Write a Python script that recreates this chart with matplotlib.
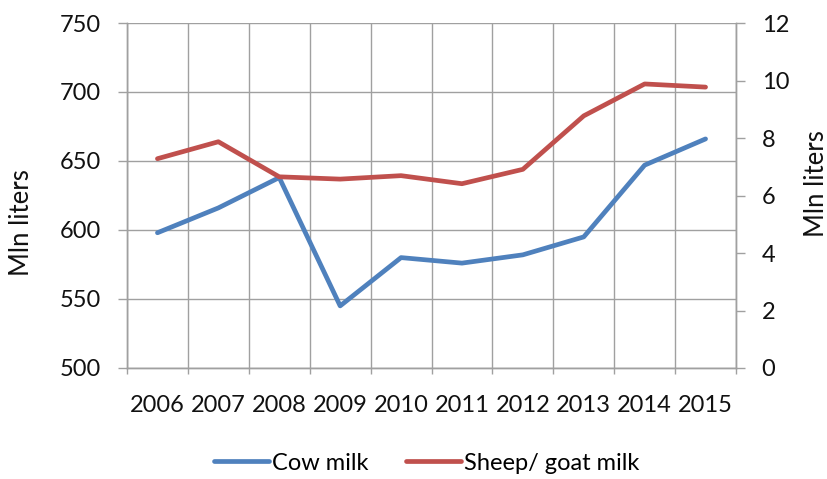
import matplotlib
matplotlib.use("Agg")
import matplotlib.pyplot as plt
import numpy as np

plt.rcParams['font.family'] = ['Lato', 'DejaVu Sans']

years = ["2006", "2007", "2008", "2009", "2010", "2011", "2012", "2013", "2014", "2015"]
cow_milk = [598, 616, 638, 545, 580, 576, 582, 595, 647, 666]
sheep_goat_milk = [7.28, 7.87, 6.65, 6.57, 6.69, 6.41, 6.91, 8.77, 9.88, 9.77]

blue = "#4F81BD"
red = "#C0504D"
grid_c = "#A0A0A0"
text_c = "#111111"
fs = 17
W, H = 827, 479

fig = plt.figure(figsize=(W / 100, H / 100), dpi=100)
ax = fig.add_axes([127 / W, 1 - 368 / H, (736 - 127) / W, (368 - 23) / H])
ax2 = ax.twinx()

x = np.arange(len(years))
ax.plot(x, cow_milk, color=blue, lw=3.4, solid_capstyle='round', zorder=3)
ax2.plot(x, sheep_goat_milk, color=red, lw=3.4, solid_capstyle='round', zorder=3)

ax.set_xlim(-0.5, len(years) - 0.5)
ax.set_ylim(500, 750)
ax.set_yticks(np.arange(500, 751, 50))
ax2.set_ylim(0, 12)
ax2.set_yticks(np.arange(0, 13, 2))

# category labels centered, ticks and vertical grid on category boundaries
ax.set_xticks(x)
ax.set_xticklabels(years)
ax.set_xticks(np.arange(-0.5, len(years), 1), minor=True)
ax.tick_params(axis='x', which='major', length=0, pad=19.5, labelsize=fs, colors=text_c)
ax.tick_params(axis='x', which='minor', length=4.5, width=1, color=grid_c)
ax.grid(True, which='minor', axis='x', color=grid_c, lw=1)
ax.grid(True, which='major', axis='y', color=grid_c, lw=1)
ax.set_axisbelow(True)

ax.tick_params(axis='y', length=6.5, width=1, color=grid_c, labelsize=fs, labelcolor=text_c, pad=12)
ax2.tick_params(axis='y', length=6.5, width=1, color=grid_c, labelsize=fs, labelcolor=text_c, pad=12)

for a in (ax, ax2):
    for s in a.spines.values():
        s.set_color(grid_c)
        s.set_linewidth(1)
    a.spines['top'].set_visible(False)

fig.text(22 / W, 1 - 223 / H, "Mln liters", rotation=90, fontsize=18.5, color=text_c,
         ha='center', va='center')
fig.text(816 / W, 1 - 184 / H, "Mln liters", rotation=90, fontsize=18.5, color=text_c,
         ha='center', va='center')

handles = [ax.lines[0], ax2.lines[0]]
fig.legend(handles, ["Cow milk", "Sheep/ goat milk"], loc='center',
           bbox_to_anchor=(427 / W, 1 - 463 / H), ncol=2, frameon=False, fontsize=fs,
           handlelength=2.3, handletextpad=0.15, columnspacing=1.6)

fig.savefig("out.png", dpi=100, facecolor='white')
